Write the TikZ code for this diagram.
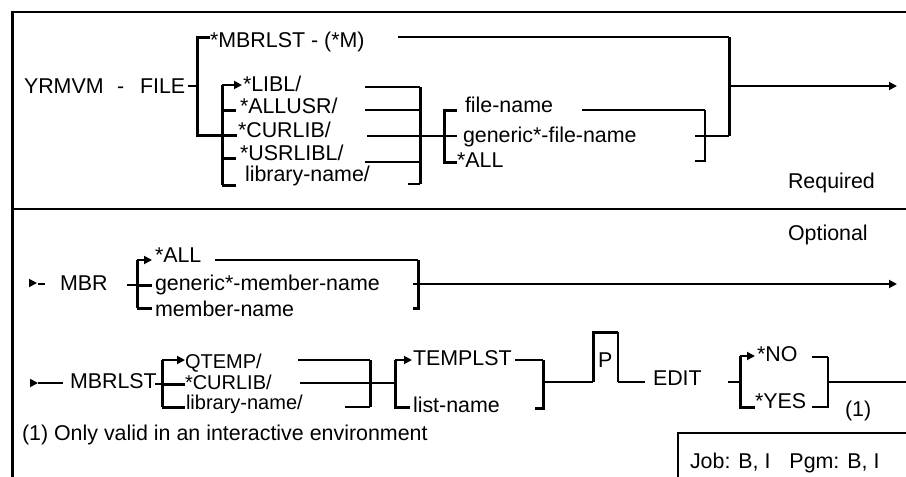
\documentclass[tikz,border=0pt]{standalone}
\usepackage{fontspec}
\setmainfont{Liberation Sans}
\usetikzlibrary{arrows.meta}
\begin{document}
\begin{tikzpicture}[x=1pt,y=-1pt,
  txt/.style={anchor=base west,inner sep=0pt,outer sep=0pt,font=\fontsize{21.4}{25}\selectfont},
  smtxt/.style={txt,font=\fontsize{20}{23}\selectfont},
  thinln/.style={line width=1.8pt},
  thickln/.style={line width=3pt},
  arr/.style={-{Triangle[length=8pt,width=8pt]}},
]
\useasboundingbox (0,0) rectangle (906,477);
% frame
\coordinate (fTL) at (12,12); \coordinate (fTLx) at (12,10.5); \coordinate (fBL) at (12,477); \coordinate (fTR) at (906,12);
\draw[line width=3pt] (fTLx) -- (fBL);
\draw[line width=2pt] (fTL) -- (fTR);
\coordinate (dL) at (12,209); \coordinate (dR) at (906,209);
\draw[line width=2pt] (dL) -- (dR);
\coordinate (jb1) at (678,477); \coordinate (jb2) at (678,433); \coordinate (jb3) at (906,433);
\draw[line width=2pt] (jb1) -- (jb2) -- (jb3);

% ---------------- Required part
\node[txt] (yr) at (24,93) {YRMVM};
\node[txt] (dsh) at (117,93) {-};
\node[txt] (file) at (140,93) {FILE};
\coordinate (fileout) at (188,86); \coordinate (b1m) at (197,86);
\draw[thinln] (fileout) -- (b1m);
\node[txt] (mbrlst) at (210,47) {*MBRLST - (*M)};
\coordinate (b1t) at (210,37); \coordinate (b1tc) at (197,37); \coordinate (b1bc) at (197,135); \coordinate (b1b) at (237,135);
\draw[thickln] (b1t) -- (b1tc) -- (b1bc) -- (b1b);
% library bracket
\coordinate (b2t) at (222,85); \coordinate (b2b) at (222,185);
\draw[thickln] (b2t) -- (b2b);
\coordinate (aLIBL) at (242,85);
\draw[thinln,arr] (b2t) -- (aLIBL);
\foreach \yy/\nm in {110/a,158/c,185/d}{
  \coordinate (t\nm l) at (222,\yy); \coordinate (t\nm r) at (236,\yy);
  \draw[thickln] (t\nm l) -- (t\nm r);
}
\node[txt] (libl) at (243,91) {*LIBL/};
\node[txt] (allusr) at (240,113) {*ALLUSR/};
\node[txt] (curlib) at (238,137) {*CURLIB/};
\node[txt] (usrlibl) at (240,160) {*USRLIBL/};
\node[txt] (libname) at (245,181) {library-name/};
% right side of library bracket
\coordinate (r1l) at (365,87); \coordinate (r1r) at (420,87);
\coordinate (r2l) at (365,110); \coordinate (r2r) at (420,110);
\coordinate (r3l) at (367,136); \coordinate (r3r) at (444,136);
\coordinate (r4l) at (365,162); \coordinate (r4r) at (420,162);
\coordinate (r5l) at (408,184); \coordinate (r5r) at (420,184);
\draw[thinln] (r1l) -- (r1r);
\draw[thinln] (r2l) -- (r2r);
\draw[thinln] (r3l) -- (r3r);
\draw[thinln] (r4l) -- (r4r);
\draw[thinln] (r5l) -- (r5r);
\draw[thickln] (r1r) -- (r5r);
% file bracket
\coordinate (f1) at (457,110); \coordinate (f1c) at (444,110); \coordinate (f3c) at (444,162); \coordinate (f3) at (457,162); \coordinate (f2) at (457,136);
\draw[thickln] (f1) -- (f1c) -- (f3c) -- (f3);
\draw[thinln] (r3r) -- (f2);
\node[txt] (fname) at (465,112) {file-name};
\node[txt] (gfname) at (463,142) {generic*-file-name};
\node[txt] (fall) at (457,167) {*ALL};
\coordinate (g1l) at (582,110); \coordinate (g1c) at (705,110); \coordinate (g3c) at (705,161); \coordinate (g3l) at (695,161);
\draw[thinln] (g1l) -- (g1c);
\draw[line width=2.5pt] (g1c) -- (g3c) -- (g3l);
\coordinate (g2l) at (695,136); \coordinate (g2r) at (729,136);
\draw[thinln] (g2l) -- (g2r);
\coordinate (mtl) at (398,37); \coordinate (mtr) at (729,37);
\draw[thinln] (mtl) -- (mtr);
\draw[thickln] (mtr) -- (g2r);
\coordinate (outA) at (729,86); \coordinate (endA) at (897,86);
\draw[thinln,arr] (outA) -- (endA);
\node[txt] (req) at (788,188) {Required};

% ---------------- Optional part
\node[txt] (opt) at (788,240) {Optional};
% MBR row
\coordinate (s1a) at (29,283); \coordinate (s1b) at (37,283);
\draw[thinln,arr] (s1a) -- (s1b);
\coordinate (s1c) at (38,284); \coordinate (s1d) at (45,284);
\draw[thinln] (s1c) -- (s1d);
\node[txt] (mbr) at (60,290) {MBR};
\coordinate (m0) at (127,285); \coordinate (m0c) at (137,285);
\draw[thinln] (m0) -- (m0c);
\coordinate (mbt) at (137,260); \coordinate (mbb) at (137,308);
\draw[thickln] (mbt) -- (mbb);
\coordinate (mat) at (152,260);
\draw[thinln,arr] (mbt) -- (mat);
\coordinate (mmt) at (152,285); \coordinate (mbt2) at (152,308);
\draw[thickln] (m0c) -- (mmt);
\draw[thickln] (mbb) -- (mbt2);
\node[txt] (mall) at (155,262) {*ALL};
\node[txt] (gmname) at (155,290) {generic*-member-name};
\node[txt] (mname) at (155,316) {member-name};
\coordinate (ml1) at (215,260); \coordinate (mr1) at (418,260); \coordinate (mr3) at (418,308); \coordinate (ml3) at (413,308);
\draw[thinln] (ml1) -- (mr1);
\draw[thickln] (mr1) -- (mr3) -- (ml3);
\coordinate (ml2) at (413,284); \coordinate (mend) at (897,284);
\draw[thinln,arr] (ml2) -- (mend);

% MBRLST row
\coordinate (s2a) at (30,383); \coordinate (s2b) at (38,383); \coordinate (s2c) at (63,383);
\draw[thinln,arr] (s2a) -- (s2b);
\draw[thinln] (s2b) -- (s2c);
\node[txt] (mbrlst2) at (70,388) {MBRLST};
\coordinate (l0) at (155,384); \coordinate (l0c) at (162,384);
\draw[thinln] (l0) -- (l0c);
\coordinate (lbt) at (162,360); \coordinate (lbb) at (162,407);
\draw[thickln] (lbt) -- (lbb);
\coordinate (lat) at (185,360);
\draw[thinln,arr] (lbt) -- (lat);
\coordinate (lmt) at (185,384); \coordinate (lbt2) at (185,407);
\draw[thickln] (l0c) -- (lmt);
\draw[thickln] (lbb) -- (lbt2);
\node[smtxt] (qtemp) at (185,368) {QTEMP/};
\node[smtxt] (curlib2) at (185,389) {*CURLIB/};
\node[smtxt] (libname2) at (186,409) {library-name/};
\coordinate (q1l) at (298,360); \coordinate (q1r) at (370,360);
\coordinate (q2l) at (300,383); \coordinate (q2r) at (395,383);
\coordinate (q3l) at (345,407); \coordinate (q3r) at (370,407);
\draw[thinln] (q1l) -- (q1r);
\draw[thinln] (q2l) -- (q2r);
\draw[thinln] (q3l) -- (q3r);
\draw[thickln] (q1r) -- (q3r);
\coordinate (tbt) at (395,360); \coordinate (tbb) at (395,407); \coordinate (tbb2) at (410,407); \coordinate (tat) at (412,360);
\draw[thickln] (tbt) -- (tbb) -- (tbb2);
\draw[thinln,arr] (tbt) -- (tat);
\node[txt] (templst) at (413,365) {TEMPLST};
\node[txt] (listname) at (413,412) {list-name};
\coordinate (t1l) at (515,360); \coordinate (t1r) at (543,360); \coordinate (t3r) at (543,408); \coordinate (t3l) at (535,408);
\draw[thinln] (t1l) -- (t1r);
\draw[thickln] (t1r) -- (t3r) -- (t3l);
\coordinate (tm) at (543,382); \coordinate (pbl) at (593,382); \coordinate (pbtl) at (593,332); \coordinate (pbtr) at (618,332); \coordinate (pbr) at (618,382);
\draw[thinln] (tm) -- (pbl);
\draw[thickln] (pbl) -- (pbtl) -- (pbtr);
\draw[thinln] (pbtr) -- (pbr);
\node[txt] (p) at (598,367) {P};
\coordinate (pe) at (645,382);
\draw[thinln] (pbr) -- (pe);
\node[txt] (edit) at (653,385) {EDIT};
\coordinate (e1) at (728,382); \coordinate (e2) at (740,382);
\draw[thinln] (e1) -- (e2);
\coordinate (ebt) at (740,356); \coordinate (ebb) at (740,407); \coordinate (ebb2) at (755,407); \coordinate (eat) at (755,356);
\draw[thickln] (ebt) -- (ebb) -- (ebb2);
\draw[thinln,arr] (ebt) -- (eat);
\node[txt] (no) at (757,361) {*NO};
\node[txt] (yes) at (755,408) {*YES};
\coordinate (n1l) at (812,357); \coordinate (n1r) at (828,357); \coordinate (n3r) at (828,407); \coordinate (n3l) at (812,407);
\draw[thinln] (n1l) -- (n1r);
\draw[line width=2.5pt] (n1r) -- (n3r) -- (n3l);
\coordinate (nm) at (828,382); \coordinate (nend) at (906,382);
\draw[thinln] (nm) -- (nend);
\node[txt] (one) at (845,416) {(1)};
\node[txt] (note) at (22,440) {(1) Only valid in an interactive environment};
\node[txt] (job) at (690,468) {Job: B, I\hspace{19pt}Pgm: B, I};
\end{tikzpicture}
\end{document}
